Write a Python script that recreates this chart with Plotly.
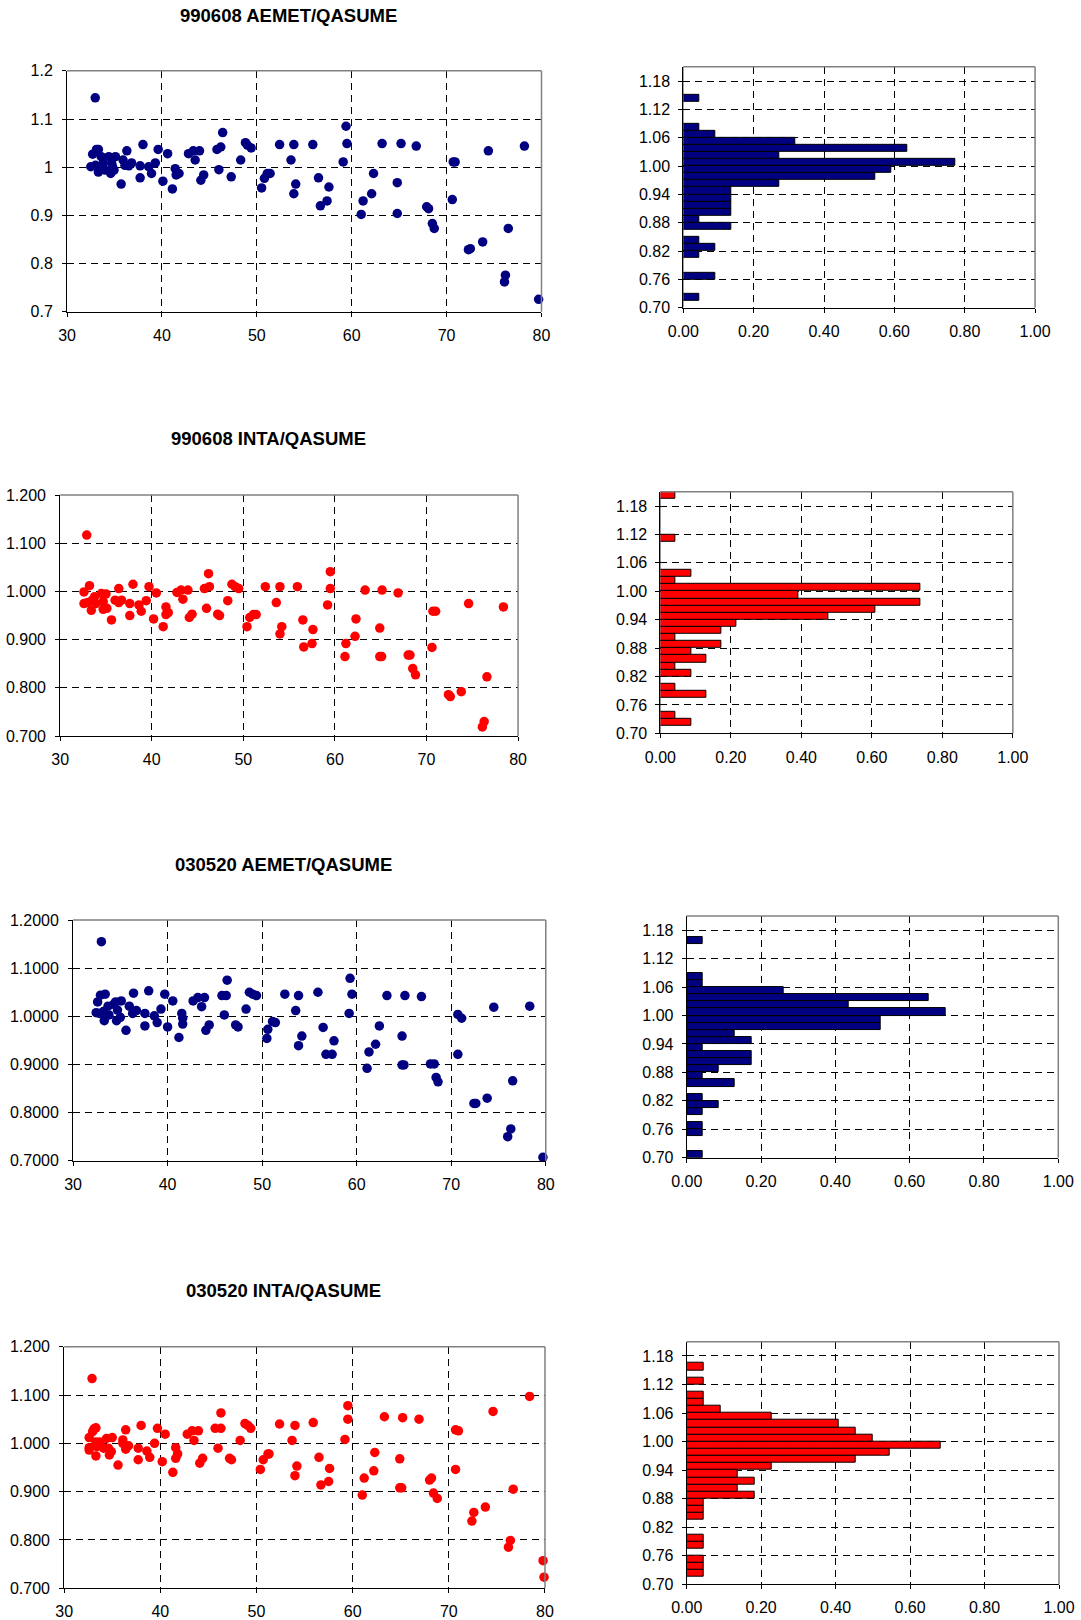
import plotly.graph_objects as go

# ---------------- data ----------------
titles = ["990608 AEMET/QASUME", "990608 INTA/QASUME", "030520 AEMET/QASUME", "030520 INTA/QASUME"]
y_ticktexts = [
    ["0.7", "0.8", "0.9", "1", "1.1", "1.2"],
    ["0.700", "0.800", "0.900", "1.000", "1.100", "1.200"],
    ["0.7000", "0.8000", "0.9000", "1.0000", "1.1000", "1.2000"],
    ["0.700", "0.800", "0.900", "1.000", "1.100", "1.200"],
]
y_tickvals = [0.7, 0.8, 0.9, 1.0, 1.1, 1.2]
x_tickvals = [30, 40, 50, 60, 70, 80]
hist_yticks = [0.70, 0.76, 0.82, 0.88, 0.94, 1.00, 1.06, 1.12, 1.18]
hist_ytext = ["0.70", "0.76", "0.82", "0.88", "0.94", "1.00", "1.06", "1.12", "1.18"]
hist_xticks = [0.0, 0.2, 0.4, 0.6, 0.8, 1.0]
hist_xtext = ["0.00", "0.20", "0.40", "0.60", "0.80", "1.00"]
bin_start = 0.70
bin_width = 0.015

sza_aemet_99 = [32.97, 32.5, 32.7, 33.1, 33.3, 33.0, 33.3, 33.6, 33.8, 34.0, 34.4, 34.8, 34.6, 35.1, 34.95,
                35.7, 35.9, 36.1, 36.3, 36.5, 36.8, 37.7, 37.7, 38.0, 38.6, 38.9, 39.3, 39.6, 40.1, 40.6,
                41.1, 41.4, 41.5, 41.8, 42.8, 43.3, 43.5, 43.96, 44.1, 44.4, 45.8, 46.2, 46.0, 46.4, 47.3,
                48.3, 48.8, 49.0, 49.4, 50.5, 50.8, 51.1, 51.4, 52.4, 53.6, 53.9, 53.9, 54.1, 55.9, 56.5,
                56.7, 57.4, 57.6, 59.1, 59.4, 59.5, 61.0, 61.2, 62.1, 62.3, 63.2, 64.8, 64.8, 65.2, 66.8,
                67.9, 68.1, 68.5, 68.7, 70.6, 70.7, 70.9, 72.3, 72.5, 73.8, 74.4, 76.1, 76.2, 76.5, 78.2,
                79.7, 33.5, 34.7]
ratio_aemet_99 = [1.144, 1.001, 1.027, 1.037, 1.037, 1.004, 0.990, 1.022, 1.008, 0.994, 1.022, 1.001, 0.987, 1.022, 0.994,
                  0.965, 1.015, 1.004, 1.034, 1.003, 1.009, 1.003, 0.978, 1.047, 1.001, 0.987, 1.009, 1.037, 0.971, 1.028,
                  0.955, 0.997, 0.984, 0.987, 1.028, 1.034, 1.015, 1.034, 0.973, 0.984, 1.037, 1.042, 0.995, 1.072, 0.980,
                  1.015, 1.051, 1.046, 1.040, 0.957, 0.977, 0.987, 0.987, 1.047, 1.015, 1.047, 0.945, 0.965, 1.047, 0.978,
                  0.920, 0.930, 0.959, 1.011, 1.085, 1.049, 0.902, 0.930, 0.945, 0.987, 1.049, 0.968, 0.904, 1.049, 1.044,
                  0.918, 0.914, 0.883, 0.873, 0.933, 1.011, 1.011, 0.829, 0.831, 0.845, 1.034, 0.762, 0.776, 0.873, 1.044,
                  0.726, 1.001, 1.008]

sza_inta_99 = [32.9, 32.6, 32.6, 33.2, 33.0, 33.5, 33.4, 33.75, 33.9, 34.5, 34.7, 34.7, 35.0, 35.1, 35.6,
               36.0, 36.4, 36.4, 36.7, 37.6, 37.6, 37.95, 38.6, 38.85, 39.4, 39.7, 40.2, 40.5, 41.25, 41.55,
               41.55, 41.8, 42.75, 43.2, 43.4, 43.95, 44.1, 44.4, 45.75, 45.98, 46.2, 46.3, 47.2, 47.4, 48.3,
               48.75, 49.1, 49.5, 50.4, 50.7, 51.1, 51.4, 52.4, 53.6, 54.0, 54.0, 54.2, 55.9, 56.5, 56.6,
               57.5, 57.6, 59.2, 59.5, 59.5, 61.1, 61.2, 62.2, 62.3, 63.3, 64.9, 64.9, 65.1, 65.15, 66.9,
               68.0, 68.2, 68.5, 68.8, 70.6, 70.7, 71.0, 72.4, 72.6, 73.8, 74.6, 76.1, 76.3, 76.6, 78.4]
ratio_inta_99 = [1.117, 0.999, 0.975, 1.012, 0.977, 0.982, 0.961, 0.989, 0.975, 0.996, 0.979, 0.963, 0.995, 0.965, 0.941,
                 0.982, 1.006, 0.977, 0.982, 0.975, 0.950, 1.015, 0.972, 0.959, 0.981, 1.010, 0.943, 0.997, 0.927, 0.968,
                 0.952, 0.956, 0.998, 1.003, 0.984, 1.003, 0.946, 0.953, 1.006, 0.965, 1.037, 1.010, 0.953, 0.950, 0.981,
                 1.015, 1.010, 1.006, 0.927, 0.946, 0.952, 0.952, 1.010, 0.977, 1.010, 0.912, 0.927, 1.010, 0.941, 0.885,
                 0.892, 0.921, 0.972, 1.041, 1.006, 0.865, 0.892, 0.907, 0.943, 1.003, 0.924, 0.865, 0.865, 1.003, 0.997,
                 0.868, 0.868, 0.840, 0.827, 0.884, 0.959, 0.959, 0.786, 0.782, 0.792, 0.975, 0.719, 0.730, 0.823, 0.968]

sza_aemet_03 = [33.0, 32.45, 32.6, 32.9, 33.4, 32.8, 33.2, 33.3, 33.7, 33.8, 34.3, 34.5, 34.7, 34.6, 35.1,
                35.0, 35.6, 35.95, 36.3, 36.4, 36.7, 37.6, 37.6, 38.0, 38.6, 38.9, 39.3, 39.7, 40.0, 40.55,
                41.2, 41.5, 41.6, 41.6, 42.7, 43.2, 43.6, 43.9, 44.05, 44.4, 45.75, 46.0, 46.2, 46.3, 47.2,
                47.45, 48.3, 48.65, 49.0, 49.4, 50.5, 50.6, 51.1, 51.4, 52.4, 53.55, 53.85, 53.85, 54.2, 55.9,
                56.45, 56.75, 57.4, 57.6, 59.2, 59.3, 59.5, 61.1, 61.3, 62.0, 62.4, 63.2, 64.8, 64.8, 65.0,
                65.1, 66.85, 67.8, 68.2, 68.4, 68.6, 70.7, 70.7, 71.1, 72.4, 72.6, 73.8, 74.5, 75.97, 76.3,
                76.5, 78.3, 79.7]
ratio_aemet_03 = [1.155, 1.0075, 1.030, 1.044, 1.046, 1.006, 1.010, 0.991, 1.021, 1.003, 1.025, 1.030, 1.013, 0.991, 1.032,
                  0.998, 0.971, 1.021, 1.006, 1.048, 1.012, 1.006, 0.980, 1.053, 1.001, 0.987, 1.015, 1.046, 0.978, 1.032,
                  0.956, 1.006, 0.984, 0.996, 1.032, 1.039, 1.020, 1.039, 0.971, 0.982, 1.043, 1.003, 1.043, 1.075, 0.982,
                  0.978, 1.015, 1.050, 1.046, 1.043, 0.954, 0.973, 0.989, 0.987, 1.046, 1.012, 1.043, 0.939, 0.959, 1.050,
                  0.977, 0.921, 0.921, 0.949, 1.006, 1.079, 1.046, 0.892, 0.926, 0.942, 0.980, 1.043, 0.959, 0.899, 0.899,
                  1.043, 1.041, 0.901, 0.901, 0.873, 0.864, 0.921, 1.004, 0.996, 0.819, 0.819, 0.830, 1.019, 0.750, 0.766,
                  0.866, 1.021, 0.707]

sza_inta_03 = [32.9, 32.6, 32.6, 32.6, 32.96, 33.1, 33.3, 33.3, 33.4, 33.3, 33.7, 34.1, 34.4, 34.6, 34.7,
               35.0, 34.9, 35.6, 36.1, 36.1, 36.4, 36.4, 36.7, 37.7, 37.7, 38.0, 38.6, 38.9, 39.4, 39.7,
               40.2, 40.5, 41.3, 41.6, 41.6, 41.8, 42.8, 43.3, 43.5, 43.96, 44.1, 44.4, 45.7, 46.0, 46.3,
               46.3, 47.2, 47.4, 48.3, 48.8, 49.1, 49.4, 50.4, 50.7, 51.2, 51.3, 52.4, 53.7, 54.0, 54.0,
               54.2, 55.9, 56.5, 56.7, 57.5, 57.6, 59.2, 59.5, 59.5, 61.0, 61.2, 62.2, 62.3, 63.3, 64.9,
               64.9, 65.1, 65.2, 66.9, 68.0, 68.2, 68.4, 68.8, 70.7, 70.7, 71.0, 72.4, 72.6, 73.8, 74.6,
               76.2, 76.4, 76.7, 78.4, 79.8, 79.9]
ratio_inta_03 = [1.134, 1.012, 0.991, 0.986, 1.024, 1.030, 1.032, 1.003, 0.993, 0.974, 1.003, 0.990, 1.010, 0.990, 0.976,
                 1.012, 0.983, 0.955, 1.007, 1.000, 1.028, 0.988, 0.995, 0.990, 0.966, 1.037, 0.984, 0.971, 1.000, 1.031,
                 0.962, 1.019, 0.940, 0.991, 0.969, 0.978, 1.019, 1.026, 1.006, 1.026, 0.959, 0.969, 1.031, 0.990, 1.031,
                 1.063, 0.969, 0.966, 1.006, 1.041, 1.037, 1.031, 0.946, 0.966, 0.978, 0.978, 1.040, 1.006, 1.037, 0.933,
                 0.953, 1.043, 0.971, 0.914, 0.921, 0.948, 1.008, 1.078, 1.050, 0.893, 0.928, 0.943, 0.981, 1.055, 0.968,
                 0.908, 0.908, 1.053, 1.050, 0.924, 0.928, 0.897, 0.886, 0.946, 1.028, 1.026, 0.839, 0.857, 0.868, 1.066,
                 0.785, 0.799, 0.905, 1.097, 0.757, 0.723]

# relative frequencies per 0.015-wide bin, starting at 0.70 (34 bins)
freq_aemet_99 = [0, 0.045, 0, 0, 0.091, 0, 0, 0.045, 0.091, 0.045, 0, 0.136, 0.045, 0.136, 0.136, 0.136, 0.136,
                 0.273, 0.545, 0.591, 0.773, 0.273, 0.636, 0.318, 0.091, 0.045, 0, 0, 0, 0.045, 0, 0, 0, 0]
freq_inta_99 = [0, 0.087, 0.043, 0, 0, 0.130, 0.043, 0, 0.087, 0.043, 0.130, 0.087, 0.174, 0.043, 0.174, 0.217, 0.478,
                0.609, 0.739, 0.391, 0.739, 0.043, 0.087, 0, 0, 0, 0, 0.043, 0, 0, 0, 0, 0, 0.043]
freq_aemet_03 = [0.043, 0, 0, 0.043, 0.043, 0, 0.043, 0.087, 0.043, 0, 0.130, 0.043, 0.087, 0.174, 0.174, 0.043, 0.174,
                 0.130, 0.522, 0.522, 0.696, 0.435, 0.652, 0.261, 0.043, 0.043, 0, 0, 0, 0, 0.043, 0, 0, 0]
freq_inta_03 = [0, 0.045, 0.045, 0.045, 0, 0.045, 0.045, 0, 0, 0.045, 0.045, 0.045, 0.182, 0.136, 0.182, 0.136, 0.227,
                0.455, 0.545, 0.682, 0.5, 0.455, 0.409, 0.227, 0.091, 0.045, 0.045, 0, 0.045, 0, 0.045, 0, 0, 0]

scatter_x = [sza_aemet_99, sza_inta_99, sza_aemet_03, sza_inta_03]
scatter_y = [ratio_aemet_99, ratio_inta_99, ratio_aemet_03, ratio_inta_03]
hist_vals = [freq_aemet_99, freq_inta_99, freq_aemet_03, freq_inta_03]
colors = ["#000080", "#FF0000", "#000080", "#FF0000"]

# ---------------- layout: target pixel boxes in the picture ----------------
W, H = 1081, 1620
# observed mapping page -> picture (measured from earlier renders): pic = S*page + O
SX, OX = 0.973, 14.2
SY, OY = 0.989, 7.85
scatter_boxes = [(65.4, 541.1, 70.7, 311.7), (58.5, 517.6, 495, 736),
                 (71.4, 545.4, 920, 1160.7), (62.5, 544.6, 1346.7, 1588.3)]
hist_boxes = [(683.3, 1036, 66.7, 307.7), (660.3, 1013.7, 491.7, 733.3),
              (686.7, 1059.3, 916, 1157.7), (686.7, 1060, 1341.7, 1584.3)]
title_pos = [(287.5, 15), (267, 438), (282, 864), (282, 1290)]

FONT = "Liberation Sans, Arial, sans-serif"
FS = 16
DASH = "7px,5px"
fig = go.Figure()
layout = dict(width=W, height=H, margin=dict(l=0, r=0, t=0, b=0), showlegend=False,
              paper_bgcolor="white", plot_bgcolor="white",
              font=dict(family=FONT, size=FS, color="black"))
shapes = []
annotations = []


def px_x(v):
    return ((v - OX) / SX) / W


def px_y(v):
    return 1 - ((v - OY) / SY) / H


def dom(box):
    x0, x1, y0, y1 = box
    return [px_x(x0), px_x(x1)], [px_y(y1), px_y(y0)]


def axis_common():
    return dict(showline=True, linecolor="black", linewidth=1, ticks="outside", ticklen=4,
                tickcolor="black", tickwidth=1, showgrid=True, gridcolor="black", gridwidth=1,
                griddash=DASH, zeroline=False, tickfont=dict(family=FONT, size=FS, color="black"))


for i in range(4):
    sx, sy = 2 * i + 1, 2 * i + 2
    # scatter
    xd, yd = dom(scatter_boxes[i])
    xn = "xaxis" if sx == 1 else f"xaxis{sx}"
    yn = "yaxis" if sx == 1 else f"yaxis{sx}"
    xr = "x" if sx == 1 else f"x{sx}"
    yr = "y" if sx == 1 else f"y{sx}"
    layout[xn] = dict(domain=xd, anchor=yr, range=[30, 80], tickmode="array", tickvals=x_tickvals,
                      ticklabelstandoff=5, **axis_common())
    layout[yn] = dict(domain=yd, anchor=xr, range=[0.7, 1.2], tickmode="array", tickvals=y_tickvals,
                      ticktext=y_ticktexts[i], ticklabelstandoff=6, **axis_common())
    fig.add_trace(go.Scatter(x=scatter_x[i], y=scatter_y[i], mode="markers", xaxis=xr, yaxis=yr,
                             marker=dict(color=colors[i], size=9.5, line=dict(width=0)), cliponaxis=False))
    for (a, b, c, d) in [(0, 1, 1, 1), (1, 1, 0, 1)]:
        shapes.append(dict(type="line", xref=f"{xr} domain", yref=f"{yr} domain", x0=a, y0=c, x1=b, y1=d,
                           line=dict(color="#808080", width=1.5), layer="above"))
    # histogram
    xd, yd = dom(hist_boxes[i])
    xn, yn, xr, yr = f"xaxis{sy}", f"yaxis{sy}", f"x{sy}", f"y{sy}"
    layout[xn] = dict(domain=xd, anchor=yr, range=[0, 1.0], tickmode="array", tickvals=hist_xticks,
                      ticktext=hist_xtext, ticklabelstandoff=5, **axis_common())
    layout[yn] = dict(domain=yd, anchor=xr, range=[bin_start, bin_start + bin_width * len(hist_vals[i])],
                      tickmode="array", tickvals=hist_yticks, ticktext=hist_ytext, ticklabelstandoff=5,
                      **axis_common())
    centers = [bin_start + bin_width * (k + 0.5) for k in range(len(hist_vals[i]))]
    fig.add_trace(go.Bar(x=hist_vals[i], y=centers, orientation="h", width=bin_width, xaxis=xr, yaxis=yr,
                         marker=dict(color=colors[i], line=dict(color="black", width=1))))
    for (a, b, c, d) in [(0, 1, 1, 1), (1, 1, 0, 1)]:
        shapes.append(dict(type="line", xref=f"{xr} domain", yref=f"{yr} domain", x0=a, y0=c, x1=b, y1=d,
                           line=dict(color="#808080", width=1.5), layer="above"))
    # title
    tx, ty = title_pos[i]
    annotations.append(dict(text=f"<b>{titles[i]}</b>", x=px_x(tx), y=px_y(ty), xref="paper", yref="paper",
                            xanchor="center", yanchor="middle", showarrow=False,
                            font=dict(family=FONT, size=18.5, color="black")))

layout["shapes"] = shapes
layout["annotations"] = annotations
layout["bargap"] = 0
fig.update_layout(**layout)
fig.write_html("out.html", config={"displayModeBar": False},
               post_script="document.body.style.margin='0';")
